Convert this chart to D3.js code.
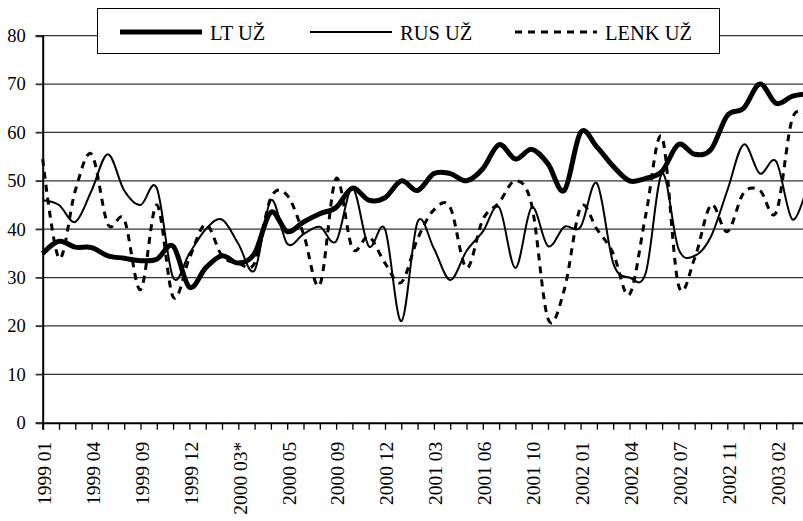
<!DOCTYPE html>
<html>
<head>
<meta charset="utf-8">
<script src="https://cdn.jsdelivr.net/npm/d3@7"></script>
<style>
  body { margin: 0; background: #fff; }
</style>
</head>
<body>
<div id="chart"></div>
<script>
// tick labels, every third category
const tickLabels = ["1999 01", "1999 04", "1999 09", "1999 12", "2000 03*", "2000 05", "2000 09", "2000 12",
  "2001 03", "2001 06", "2001 10", "2002 01", "2002 04", "2002 07", "2002 11", "2003 02"];

const yTicks = [0, 10, 20, 30, 40, 50, 60, 70, 80];

const seriesNames = ["LT UŽ", "RUS UŽ", "LENK UŽ"];

const ltValues = [35, 37.5, 36.3, 36.2, 34.5, 34, 33.5, 33.8, 36.5, 28, 32, 34.5, 33, 35, 43.5, 39.5,
  41.5, 43.2, 44.5, 48.5, 46, 46.5, 50, 48, 51.5, 51.5, 50, 52.5, 57.5, 54.5, 56.5, 53.5,
  48, 60, 57, 53, 50, 50.5, 52, 57.5, 55.5, 56.5, 63.5, 65, 70, 66, 67.5, 68];

const rusValues = [46, 45, 41.5, 48, 55.5, 48, 45, 48.5, 30, 35, 40, 42, 37, 31.5, 46, 37,
  39, 40.5, 37.5, 48.5, 36.5, 40, 21, 41.5, 36, 29.5, 35.5, 39.5, 44.5, 32, 44.5, 36.5,
  40.5, 40.5, 49.5, 33, 30, 31, 51.5, 36, 34.5, 38.5, 48, 57.5, 51.5, 54, 42, 50];

const lenkValues = [54.5, 34, 48, 55.5, 41, 42, 27.5, 45, 26, 34, 41, 34.5, 33, 33, 46.5, 47,
  39, 28.5, 50.5, 36, 38.5, 33, 29, 38, 44, 44.5, 32, 42, 45.5, 50, 45, 21.5,
  27.5, 44.5, 40, 35, 26.5, 43, 59, 28.5, 34, 45, 39.5, 47.5, 48, 43.5, 63, 63];

const width = 803, height = 521;
const margin = {left: 42.7, bottom: 422.7, top: 35.7};
const step = 16.3;
const serif = '"Liberation Serif", "Times New Roman", serif';

const svg = d3.select('#chart').append('svg')
  .attr('width', width)
  .attr('height', height)
  .style('display', 'block');

svg.append('rect').attr('width', width).attr('height', height).attr('fill', '#fff');

const n = ltValues.length;
const x = d3.scaleLinear().domain([0, n - 1]).range([margin.left, margin.left + step * (n - 1)]);
const y = d3.scaleLinear().domain([0, 80]).range([margin.bottom, margin.top]);

// gridlines
svg.append('g')
  .selectAll('line')
  .data(yTicks.slice(1))
  .enter().append('line')
    .attr('x1', margin.left - 7)
    .attr('x2', width)
    .attr('y1', d => y(d))
    .attr('y2', d => y(d))
    .attr('stroke', '#333')
    .attr('stroke-width', 1.3);

// y axis
const yAxis = svg.append('g')
  .attr('transform', 'translate(' + margin.left + ',0)')
  .call(d3.axisLeft(y).tickValues(yTicks).tickSize(7).tickPadding(10));
yAxis.select('.domain').attr('stroke', '#000').attr('stroke-width', 2);
yAxis.selectAll('.tick line').attr('stroke', '#333').attr('stroke-width', 1.3);
yAxis.selectAll('text')
  .style('font-family', serif)
  .attr('font-size', 18.5)
  .attr('fill', '#000');

const line = vals => d3.line()
  .x((d, i) => x(i))
  .y(d => y(d))
  .curve(d3.curveCardinal.tension(0))(vals);

const styles = [
  {width: 5, dash: null},
  {width: 2, dash: null},
  {width: 3, dash: '7,6'}
];
const allSeries = [ltValues, rusValues, lenkValues];

// draw dashed first, thick last
[2, 1, 0].forEach(k => {
  svg.append('path')
    .attr('d', line(allSeries[k]))
    .attr('fill', 'none')
    .attr('stroke', '#000')
    .attr('stroke-width', styles[k].width)
    .attr('stroke-dasharray', styles[k].dash)
    .attr('stroke-linejoin', 'round');
});

// x axis
const xAxis = svg.append('g')
  .attr('transform', 'translate(0,' + margin.bottom + ')')
  .call(d3.axisBottom(x)
    .tickValues(d3.range(n))
    .tickSize(7)
    .tickFormat(i => i % 3 === 0 ? tickLabels[i / 3] : ''));
xAxis.select('.domain').attr('stroke', '#000').attr('stroke-width', 2);
xAxis.selectAll('.tick line').attr('stroke', '#000').attr('stroke-width', 1.3);
xAxis.selectAll('text')
  .style('font-family', serif)
  .attr('font-size', 19.5)
  .attr('fill', '#000')
  .attr('text-anchor', 'end')
  .attr('transform', 'translate(1,19) rotate(-90)')
  .attr('y', 0)
  .attr('x', 0)
  .attr('dy', '0.35em');

// legend
const legend = svg.append('g');
legend.append('rect')
  .attr('x', 97.5).attr('y', 8.5)
  .attr('width', 622).attr('height', 45)
  .attr('fill', '#fff')
  .attr('stroke', '#000')
  .attr('stroke-width', 1);

const legendX = [120, 310, 515];
seriesNames.forEach((name, k) => {
  legend.append('line')
    .attr('x1', legendX[k]).attr('x2', legendX[k] + 82)
    .attr('y1', 32).attr('y2', 32)
    .attr('stroke', '#000')
    .attr('stroke-width', styles[k].width)
    .attr('stroke-dasharray', styles[k].dash);
  legend.append('text')
    .attr('x', legendX[k] + 90)
    .attr('y', 40)
    .style('font-family', serif)
    .attr('font-size', 20.5)
    .text(name);
});
</script>
</body>
</html>
